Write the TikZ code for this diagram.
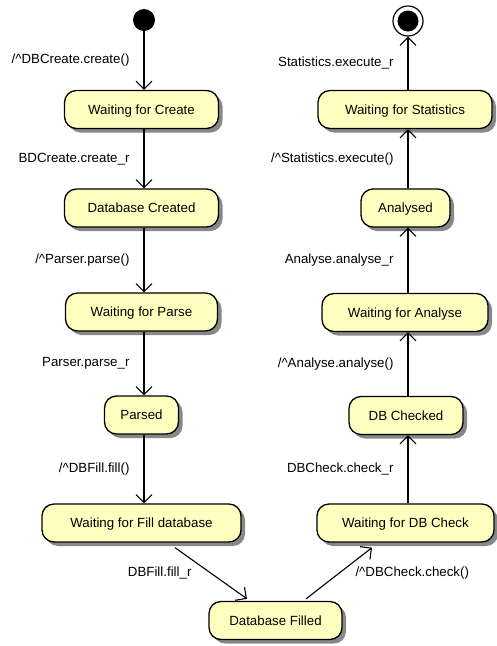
\documentclass[tikz,border=0pt]{standalone}
\usepackage{fontspec}
\setmainfont{Liberation Sans}
\usetikzlibrary{arrows.meta,shadows}
\definecolor{statefill}{RGB}{255,255,192}
\begin{document}
\begin{tikzpicture}[x=1pt,y=-1pt,
  state/.style={draw=black, line width=1.3pt, fill=statefill, rounded corners=12pt,
    minimum height=38pt, inner sep=0pt, text height=9.5pt, text depth=0pt,
    font=\fontsize{13.3}{16}\selectfont,
    drop shadow={shadow xshift=4pt, shadow yshift=-4pt, fill=black!55, opacity=0.85}},
  arr/.style={line width=1.1pt, -{Straight Barb[length=8pt,width=16pt,line width=1.1pt]}},
  lbl/.style={font=\fontsize{13.3}{16}\selectfont, inner sep=0pt, anchor=east, xshift=-14pt},
  rlbl/.style={font=\fontsize{13.3}{16}\selectfont, inner sep=0pt, anchor=west, xshift=16pt}]
\useasboundingbox (0,0) rectangle (496,646);

% column lines
\coordinate (lc) at (144,0);
\coordinate (rc) at (408,0);

% initial and final pseudo-states
\node[circle, fill=black, minimum size=22pt, inner sep=0pt] (init) at (144,20) {};
\node[circle, draw=black, line width=1.2pt, fill=white, minimum size=30pt, inner sep=0pt] (final) at (408,21) {};
\fill[black] (final.center) circle[radius=10.5pt];

% left column
\node[state, minimum width=154pt] (wcreate)  at (141.5,109.5) {Waiting for Create};
\node[state, minimum width=154pt] (created)  at (141.5,208)   {Database Created};
\node[state, minimum width=152pt] (wparse)   at (141.5,312)   {Waiting for Parse};
\node[state, minimum width=74pt]  (parsed)   at (141.5,415)   {Parsed};
\node[state, minimum width=199pt] (wfill)    at (141.5,523)   {Waiting for Fill database};

% bottom
\node[state, minimum width=133pt] (filled)   at (275.5,620.5) {Database Filled};

% right column
\node[state, minimum width=177pt] (wcheck)   at (405.5,523)   {Waiting for DB Check};
\node[state, minimum width=114pt] (checked)  at (406,415.5)   {DB Checked};
\node[state, minimum width=166pt] (wanalyse) at (405,312.5)   {Waiting for Analyse};
\node[state, minimum width=89pt]  (analysed) at (405.5,208)   {Analysed};
\node[state, minimum width=174pt] (wstat)    at (405,109.5)   {Waiting for Statistics};

% transitions, left column
\draw[arr] (init) -- node[lbl] {/\textasciicircum DBCreate.create()} (lc |- wcreate.north);
\draw[arr] (lc |- wcreate.south) -- node[lbl] {BDCreate.create\_r} (lc |- created.north);
\draw[arr] (lc |- created.south) -- node[lbl] {/\textasciicircum Parser.parse()} (lc |- wparse.north);
\draw[arr] (lc |- wparse.south) -- node[lbl] {Parser.parse\_r} (lc |- parsed.north);
\draw[arr] (lc |- parsed.south) -- node[lbl] {/\textasciicircum DBFill.fill()} (lc |- wfill.north);

% transitions through the bottom
\draw[arr] ([xshift=33.5pt,yshift=-5pt]wfill.south) -- node[lbl, xshift=-5pt] {DBFill.fill\_r} ([xshift=-28.5pt,yshift=2pt]filled.north);
\draw[arr] ([xshift=30.5pt,yshift=2pt]filled.north) -- node[rlbl] {/\textasciicircum DBCheck.check()} ([xshift=-33.5pt,yshift=-5pt]wcheck.south);

% transitions, right column
\draw[arr] (rc |- wcheck.north) -- node[lbl] {DBCheck.check\_r} (rc |- checked.south);
\draw[arr] (rc |- checked.north) -- node[lbl] {/\textasciicircum Analyse.analyse()} (rc |- wanalyse.south);
\draw[arr] (rc |- wanalyse.north) -- node[lbl] {Analyse.analyse\_r} (rc |- analysed.south);
\draw[arr] (rc |- analysed.north) -- node[lbl] {/\textasciicircum Statistics.execute()} (rc |- wstat.south);
\draw[arr] (rc |- wstat.north) -- node[lbl] {Statistics.execute\_r} (final);
\end{tikzpicture}
\end{document}
